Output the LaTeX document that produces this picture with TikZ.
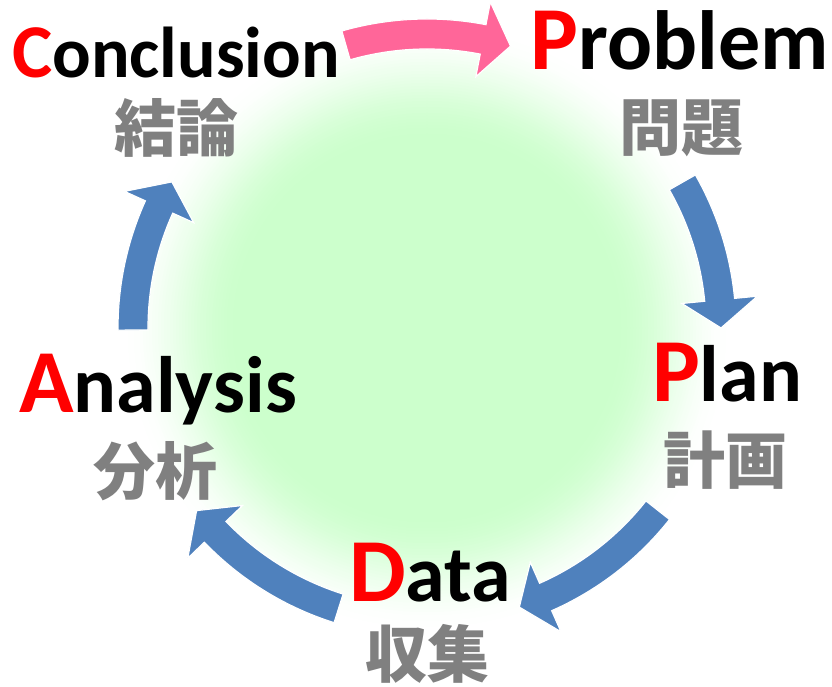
\documentclass[tikz,border=0pt]{standalone}
\usepackage{fontspec}
\setmainfont{Carlito}
\newfontfamily\jp{Noto Sans CJK JP}
\definecolor{glowgreen}{HTML}{CCFFCC}
\definecolor{arrowblue}{HTML}{4F81BD}
\definecolor{arrowpink}{HTML}{FF6699}
\definecolor{capred}{HTML}{FF0000}
\definecolor{jpgray}{HTML}{808080}
\newcommand\blockarrow[3]{%
  \pgfmathsetmacro\hb{#2+5.5}%
  \fill[#3, draw=white, line width=1.2pt, line join=miter]
    (#1:279pt) arc[start angle=#1, end angle=\hb, radius=279pt]
    -- (\hb:256pt) -- (#2:294pt) -- (\hb:332pt) -- (\hb:309pt)
    arc[start angle=\hb, end angle=#1, radius=309pt] -- cycle;}
\tikzset{
  eng/.style={anchor=base, inner sep=0pt, font=\bfseries},
  jpn/.style={anchor=center, inner sep=0pt, text=jpgray, font=\jp\bfseries\fontsize{62}{62}\selectfont},
}
\newcommand\myfirstletter[1]{{\fontsize{90}{90}\selectfont\color{capred}#1}}
\newcommand\myrestword[1]{{\fontsize{80}{80}\selectfont#1}}
\begin{document}
\begin{tikzpicture}[x=1pt,y=1pt]
\fill[white] (0,0) rectangle (832,687);
\useasboundingbox (0,0) rectangle (832,687);
\coordinate (ctr) at (427,359);
% soft green glow
\foreach \i in {0,...,40}{
  \pgfmathsetmacro\rr{305-3*\i}
  \pgfmathsetmacro\tt{min(1,(305-\rr)/115)}
  \pgfmathsetmacro\pp{100*\tt*\tt*(3-2*\tt)}
  \fill[glowgreen!\pp!white] (ctr) circle[radius=\rr pt];
}
\begin{scope}[shift={(ctr)}]
  \blockarrow{106}{73.5}{arrowpink}
  \blockarrow{29.7}{0}{arrowblue}
  \blockarrow{-38.3}{-71.7}{arrowblue}
  \blockarrow{-107.5}{-141.6}{arrowblue}
  \blockarrow{180.4}{150.2}{arrowblue}
\end{scope}
\node[eng] (conc) at (176,609) {{\fontsize{76}{76}\selectfont\color{capred}C}{\fontsize{72}{72}\selectfont onclusion}};
\node[eng] (prob) at (680,617) {\myfirstletter{P}{\fontsize{84}{84}\selectfont roblem}};
\node[eng] (plan) at (727,285) {\myfirstletter{P}\myrestword{lan}};
\node[eng] (anal) at (158,274) {\myfirstletter{A}\myrestword{nalysis}};
\node[eng] (data) at (430,85) {\myfirstletter{D}\myrestword{ata}};
\node[jpn] (concjp) at (176,559) {結論};
\node[jpn] (probjp) at (681,559) {問題};
\node[jpn] (planjp) at (725,227) {計画};
\node[jpn] (analjp) at (155,216) {分析};
\node[jpn] (datajp) at (427,33) {収集};
\end{tikzpicture}
\end{document}
